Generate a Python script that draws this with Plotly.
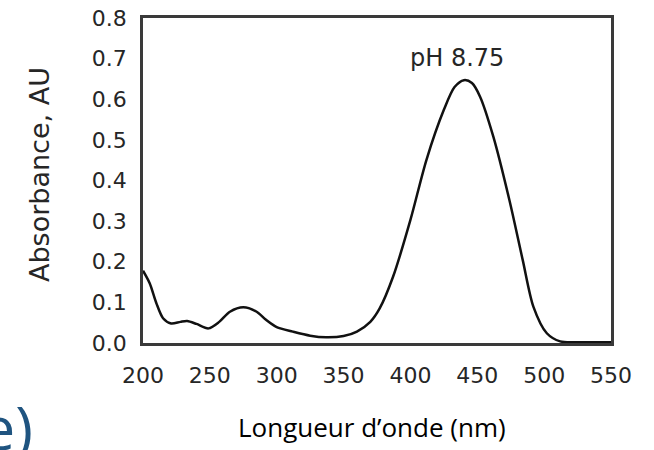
import plotly.graph_objects as go

# Data
wavelength_nm = [200, 205, 210, 215, 221, 228, 233, 240, 249, 257, 265, 275, 285, 292,
                 300, 312, 325, 337, 350, 360, 370, 377, 387, 400, 412, 425, 433, 440,
                 446, 452, 462, 474, 484, 492, 502, 512, 525, 550]
absorbance = [0.178, 0.147, 0.098, 0.061, 0.048, 0.052, 0.054, 0.047, 0.036, 0.052, 0.077,
              0.088, 0.077, 0.057, 0.039, 0.028, 0.018, 0.014, 0.017, 0.028, 0.052, 0.085,
              0.163, 0.303, 0.451, 0.574, 0.630, 0.647, 0.640, 0.607, 0.508, 0.352, 0.204,
              0.089, 0.024, 0.004, 0.002, 0.002]
x_ticks = [200, 250, 300, 350, 400, 450, 500, 550]
y_ticks = [0.0, 0.1, 0.2, 0.3, 0.4, 0.5, 0.6, 0.7, 0.8]
y_ticktext = [f"{v:.1f}" for v in y_ticks]
peak_label = "pH 8.75"

W, H = 654, 450
L, R, T, B = 143, 43, 18, 107
pw, ph = W - L - R, H - T - B


def px2paper(px, py):
    return (px - L) / pw, (H - B - py) / ph


fig = go.Figure()
fig.add_trace(go.Scatter(x=wavelength_nm, y=absorbance, mode="lines",
                         line=dict(color="#111111", width=2.5, shape="spline", smoothing=0.8),
                         showlegend=False, hoverinfo="skip"))

axis_common = dict(showgrid=False, zeroline=False, showline=True, mirror=True,
                   linecolor="#3a3a3a", linewidth=2.5, ticks="", automargin=False,
                   tickfont=dict(family="DejaVu Sans", size=22, color="#262626"))
fig.update_xaxes(range=[200, 550], tickvals=x_ticks, ticktext=[str(v) for v in x_ticks],
                 ticklabelstandoff=11, **axis_common)
fig.update_yaxes(range=[0, 0.8], tickvals=y_ticks, ticktext=y_ticktext,
                 ticklabelstandoff=9, **axis_common)

ann = []
ann.append(dict(text=peak_label, x=434.8, y=0.702, xref="x", yref="y", showarrow=False,
                font=dict(family="DejaVu Sans", size=24, color="#262626"),
                xanchor="center", yanchor="middle"))
ax, ay = px2paper(39, 175)
ann.append(dict(text="Absorbance, AU", x=ax, y=ay, xref="paper", yref="paper", textangle=-90,
                showarrow=False, font=dict(family="DejaVu Sans", size=27, color="#262626"),
                xanchor="center", yanchor="middle"))
lx, ly = px2paper(372, 427)
ann.append(dict(text="Longueur d’onde (nm)", x=lx, y=ly, xref="paper", yref="paper",
                showarrow=False, font=dict(family="Open Sans", size=26, color="#000000"),
                xanchor="center", yanchor="middle"))
ex, ey = px2paper(35, 427)
ann.append(dict(text="onde)", x=ex, y=ey, xref="paper", yref="paper",
                showarrow=False, font=dict(family="Open Sans", size=60, color="#1f5480"),
                xanchor="right", yanchor="middle"))

fig.update_layout(width=W, height=H, margin=dict(l=L, r=R, t=T, b=B),
                  paper_bgcolor="white", plot_bgcolor="white", annotations=ann)

fig.write_html("out.html")
